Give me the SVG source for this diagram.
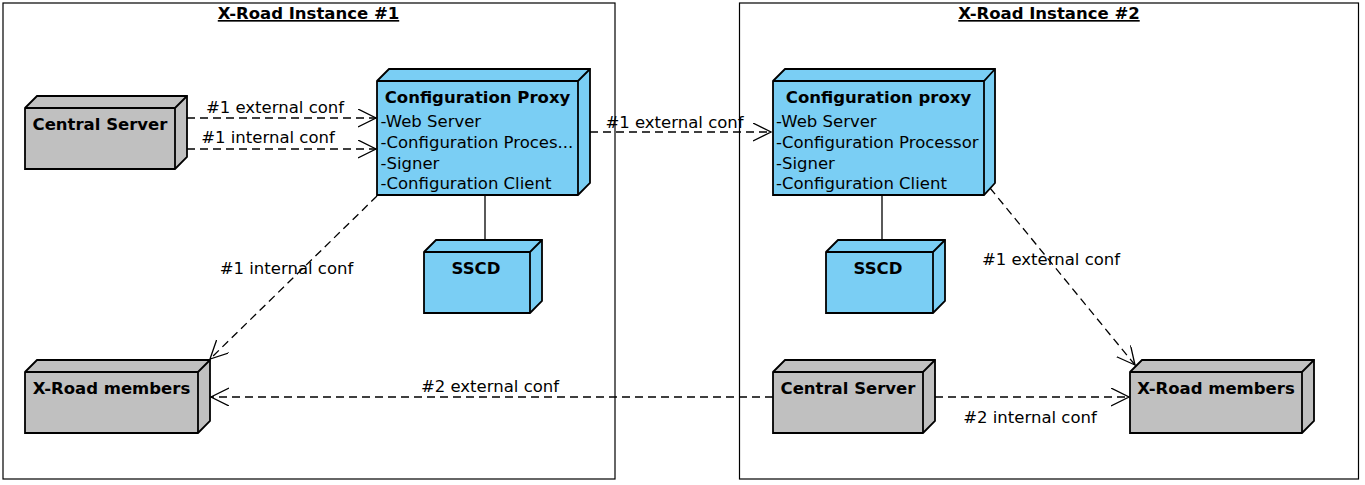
<svg xmlns="http://www.w3.org/2000/svg" width="1365" height="485" viewBox="0 0 1365 485">
<style>
  .frame { fill: #ffffff; stroke: #000000; stroke-width: 1.2; }
  .title { font-family: "DejaVu Sans", sans-serif; font-size: 16.5px; font-weight: bold; text-decoration: underline; text-anchor: middle; }
  .blue { fill: #7ACEF4; stroke: #000000; stroke-width: 1.8; stroke-linejoin: miter; }
  .gray { fill: #C0C0C0; stroke: #000000; stroke-width: 1.8; stroke-linejoin: miter; }
  .edge { fill: none; stroke: #000000; stroke-width: 1.8; }
  .name { font-family: "DejaVu Sans", sans-serif; font-size: 16.5px; font-weight: bold; text-anchor: middle; fill: #000; }
  .item { font-family: "DejaVu Sans", sans-serif; font-size: 16.5px; fill: #000; }
  .lbl { font-family: "DejaVu Sans", sans-serif; font-size: 16.5px; fill: #000; text-anchor: middle; }
  .dep { fill: none; stroke: #000; stroke-width: 1.3; stroke-dasharray: 8 5; }
  .solid { fill: none; stroke: #000; stroke-width: 1.3; }
</style>
<defs>
  <marker id="open" markerUnits="userSpaceOnUse" viewBox="0 0 20 20" markerWidth="20" markerHeight="20" refX="18" refY="9" orient="auto">
    <path d="M0,0 L18,9 L0,18" fill="none" stroke="#000" stroke-width="1.3"/>
  </marker>
</defs>
<rect width="1365" height="485" fill="#ffffff"/>

<g id="instance1">
  <rect class="frame" x="3" y="3" width="612" height="476"/>
  <text class="title" x="308.5" y="19">X-Road Instance #1</text>
</g>
<g id="instance2">
  <rect class="frame" x="739.5" y="3" width="619" height="476"/>
  <text class="title" x="1049" y="19">X-Road Instance #2</text>
</g>

<g id="connectors">
  <line class="dep" x1="187" y1="118" x2="376" y2="118" marker-end="url(#open)"/>
  <line class="dep" x1="187" y1="149" x2="376" y2="149" marker-end="url(#open)"/>
  <line class="dep" x1="590" y1="132" x2="771" y2="132" marker-end="url(#open)"/>
  <line class="dep" x1="377" y1="196" x2="210" y2="359" marker-end="url(#open)"/>
  <line class="dep" x1="990" y1="188" x2="1135" y2="365" marker-end="url(#open)"/>
  <line class="dep" x1="773" y1="397" x2="211" y2="397" marker-end="url(#open)"/>
  <line class="dep" x1="935" y1="397" x2="1129" y2="397" marker-end="url(#open)"/>
  <line class="solid" x1="485" y1="195" x2="485" y2="241"/>
  <line class="solid" x1="882" y1="195" x2="882" y2="241"/>
  <text class="lbl" x="275" y="113">#1 external conf</text>
  <text class="lbl" x="268" y="143">#1 internal conf</text>
  <text class="lbl" x="674.5" y="128">#1 external conf</text>
  <text class="lbl" x="286.5" y="274">#1 internal conf</text>
  <text class="lbl" x="1051" y="265">#1 external conf</text>
  <text class="lbl" x="490" y="392">#2 external conf</text>
  <text class="lbl" x="1030" y="423">#2 internal conf</text>
</g>

<g id="central-server-1">
  <path class="gray" d="M25,108 L37,96 L187,96 L187,157 L175,169 L25,169 Z"/>
  <path class="edge" d="M25,108 L175,108 L187,96 M175,108 L175,169"/>
  <text class="name" x="100" y="130">Central Server</text>
</g>

<g id="config-proxy-1">
  <path class="blue" d="M377,81 L389,69 L590,69 L590,183 L578,195 L377,195 Z"/>
  <path class="edge" d="M377,81 L578,81 L590,69 M578,81 L578,195"/>
  <text class="name" x="477.5" y="103">Configuration Proxy</text>
  <text class="item" x="380.5" y="127">-Web Server</text>
  <text class="item" x="380.5" y="148">-Configuration Proces...</text>
  <text class="item" x="380.5" y="168.5">-Signer</text>
  <text class="item" x="380.5" y="189">-Configuration Client</text>
</g>

<g id="sscd-1">
  <path class="blue" d="M424,252 L436,240 L542,240 L542,301 L530,313 L424,313 Z"/>
  <path class="edge" d="M424,252 L530,252 L542,240 M530,252 L530,313"/>
  <text class="name" x="476" y="274">SSCD</text>
</g>

<g id="xroad-members-1">
  <path class="gray" d="M25,372 L37,360 L210,360 L210,421 L198,433 L25,433 Z"/>
  <path class="edge" d="M25,372 L198,372 L210,360 M198,372 L198,433"/>
  <text class="name" x="111.5" y="394">X-Road members</text>
</g>

<g id="config-proxy-2">
  <path class="blue" d="M773,81 L785,69 L995,69 L995,183 L984,195 L773,195 Z"/>
  <path class="edge" d="M773,81 L984,81 L995,69 M984,81 L984,195"/>
  <text class="name" x="878.5" y="103">Configuration proxy</text>
  <text class="item" x="776" y="127">-Web Server</text>
  <text class="item" x="776" y="148">-Configuration Processor</text>
  <text class="item" x="776" y="168.5">-Signer</text>
  <text class="item" x="776" y="189">-Configuration Client</text>
</g>

<g id="sscd-2">
  <path class="blue" d="M826,252 L838,240 L945,240 L945,301 L933,313 L826,313 Z"/>
  <path class="edge" d="M826,252 L933,252 L945,240 M933,252 L933,313"/>
  <text class="name" x="878" y="274">SSCD</text>
</g>

<g id="central-server-2">
  <path class="gray" d="M773,372 L785,360 L935,360 L935,421 L923,433 L773,433 Z"/>
  <path class="edge" d="M773,372 L923,372 L935,360 M923,372 L923,433"/>
  <text class="name" x="848" y="394">Central Server</text>
</g>

<g id="xroad-members-2">
  <path class="gray" d="M1130,372 L1142,360 L1314,360 L1314,421 L1302,433 L1130,433 Z"/>
  <path class="edge" d="M1130,372 L1302,372 L1314,360 M1302,372 L1302,433"/>
  <text class="name" x="1216" y="394">X-Road members</text>
</g>
</svg>
